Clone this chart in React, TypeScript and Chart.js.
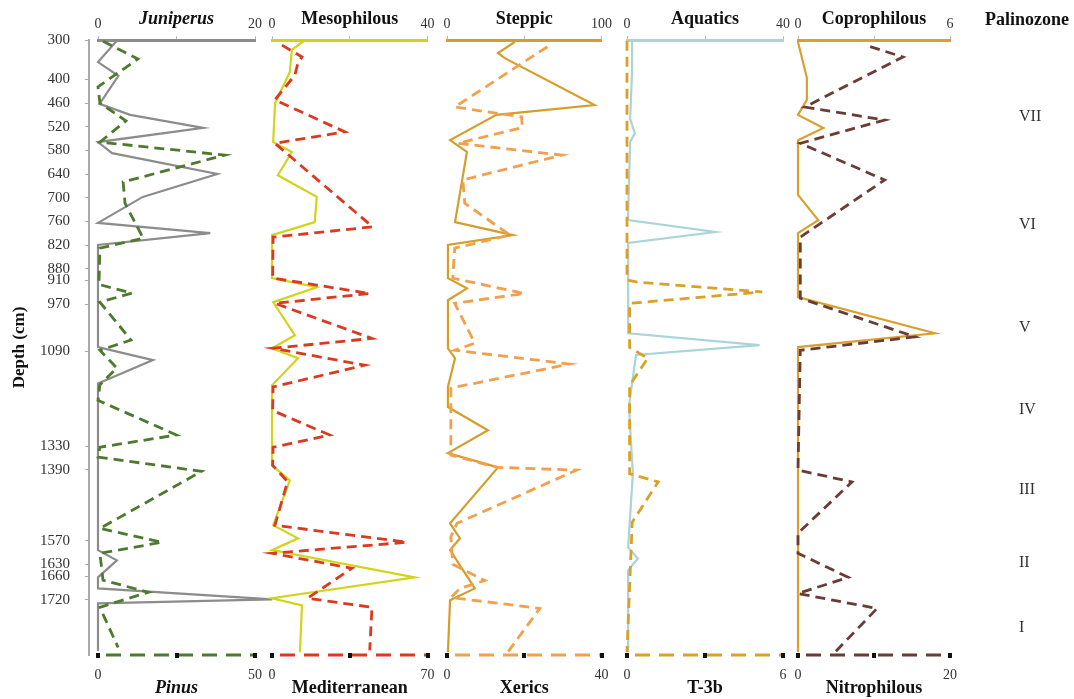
import React, { useEffect, useRef } from 'react';
import { Chart, registerables } from 'chart.js';
Chart.register(...registerables);

const W = 1074;
const H = 699;
const FONT = "'Liberation Serif', 'Times New Roman', serif";

// ---- depth axis ----
const depthMin = 300;
const depthMax = 1860;
const depthTicks = [300, 400, 460, 520, 580, 640, 700, 760, 820, 880, 910, 970, 1090, 1330, 1390, 1570, 1630, 1660, 1720];

// ---- series (depth in cm, value in %) ----
const juniperusDepth = [302, 356, 391, 462, 490, 523, 559, 587, 640, 698, 764, 790, 820, 1079, 1112, 1171, 1594, 1620, 1663, 1691, 1719, 1729, 1850];
const juniperusValues = [2.4, 0, 2.6, 0.2, 4.1, 13.4, 0, 1.8, 15.2, 5.7, 0, 14.3, 0, 0, 7.0, 0, 0, 2.4, 0, 0, 22.2, 0, 0];

const pinusDepth = [303, 348, 419, 460, 505, 559, 592, 660, 714, 803, 828, 920, 942, 965, 1061, 1087, 1132, 1175, 1214, 1302, 1333, 1358, 1394, 1539, 1574, 1602, 1670, 1701, 1739, 1841];
const pinusValues = [1.6, 12.7, 0, 0.6, 8.9, 0.6, 40.4, 8, 8.6, 14.4, 0.6, 0.3, 10.8, 0.6, 10.5, 0.6, 6, 0.6, 0, 25, 0.6, 0, 33, 0.6, 20.4, 0.6, 1.6, 16, 0.6, 6.4];

const mesophilousDepth = [300, 325, 381, 460, 559, 584, 643, 698, 762, 795, 904, 927, 965, 1049, 1082, 1107, 1176, 1379, 1417, 1531, 1564, 1594, 1663, 1716, 1734, 1853];
const mesophilousValues = [8.5, 5.1, 4.6, 0.8, 0.3, 5.1, 1.5, 11.5, 11, 0, 0, 11.5, 0.3, 5.9, 0, 6.7, 0, 0, 4.6, 0.3, 6.7, 0, 36.7, 0, 7.7, 7.2];

const mediterraneanDepth = [313, 343, 358, 389, 452, 533, 562, 774, 800, 904, 943, 968, 1057, 1082, 1125, 1180, 1240, 1302, 1333, 1379, 1420, 1531, 1574, 1602, 1640, 1716, 1739, 1848];
const mediterraneanValues = [4.5, 13.5, 11.7, 10.3, 1.3, 32.8, 1.3, 45.3, 0.5, 0.3, 44, 1.3, 45, 0.5, 41.7, 0.5, 0.3, 26, 0.5, 0.3, 7, 1.3, 60.6, 0, 36, 16, 45, 44];

const steppicDepth = [305, 333, 346, 465, 490, 554, 584, 762, 795, 820, 904, 930, 960, 1082, 1107, 1180, 1231, 1290, 1348, 1384, 1526, 1564, 1594, 1691, 1721, 1853];
const steppicValues = [43.8, 33, 37.4, 95.5, 32, 2, 12.9, 5.2, 42.6, 0.6, 0.6, 12.9, 0.6, 0.6, 5.2, 0.6, 0.6, 26.5, 0.6, 33, 2, 8.4, 2, 18, 2, 0.6];

const xericsDepth = [317, 470, 495, 522, 562, 592, 655, 714, 795, 828, 904, 943, 968, 1069, 1087, 1122, 1183, 1353, 1384, 1391, 1526, 1560, 1630, 1671, 1691, 1714, 1742, 1856];
const xericsValues = [26, 2, 19.3, 19.5, 2.8, 29.7, 4.1, 4.6, 16.3, 2, 1.5, 20, 2, 7.2, 2, 31.7, 1, 1, 13, 33.5, 2.6, 1, 1.5, 9.8, 3.4, 1, 24, 15.5];

const aquaticsDepth = [302, 380, 500, 536, 559, 739, 757, 787, 815, 1044, 1074, 1099, 1171, 1230, 1399, 1587, 1615, 1645, 1853];
const aquaticsValues = [1.3, 1.3, 0.8, 2, 0.8, 0.3, 0.3, 22.6, 0.3, 0.3, 34, 2.3, 1.3, 0.5, 1.5, 0.3, 2.8, 0.3, 0.3];

const t3bDepth = [302, 909, 914, 939, 968, 1080, 1107, 1176, 1400, 1421, 1523, 1853];
const t3bValues = [0, 0, 0.4, 5.2, 0.1, 0.1, 0.8, 0.1, 0.1, 1.2, 0.2, 0];

const coprophilousDepth = [305, 396, 452, 490, 523, 554, 693, 757, 790, 952, 1044, 1079, 1853];
const coprophilousValues = [0, 0.35, 0.35, 0, 1.0, 0, 0, 0.8, 0, 0, 5.4, 0, 0];

const nitrophilousDepth = [317, 343, 470, 503, 562, 655, 800, 955, 1053, 1087, 1391, 1421, 1551, 1602, 1663, 1704, 1742, 1858];
const nitrophilousValues = [9.5, 13.8, 0.9, 11.4, 0.3, 11.4, 0.3, 0.3, 15.4, 0.3, 0, 7.1, 0, 0, 6.6, 0, 10.4, 4.6];

// ---- palynological zones ----
const zoneLabels = ['VII', 'VI', 'V', 'IV', 'III', 'II', 'I'];
const zoneDepths = [495, 770, 1031, 1239, 1442, 1627, 1790];

type PanelCfg = {
  left: number; right: number; padRight: number;
  topTitle: string; bottomTitle: string; italic: boolean;
  topMax: number; bottomMax: number;
  topColor: string; bottomColor: string;
  topDepth: number[]; topValues: number[];
  bottomDepth: number[]; bottomValues: number[];
  zones?: boolean;
};

const PAD = 14;

const panels: PanelCfg[] = [
  { left: 98, right: 255, padRight: 24, topTitle: 'Juniperus', bottomTitle: 'Pinus', italic: true, topMax: 20, bottomMax: 50,
    topColor: '#8c8c8c', bottomColor: '#4d7a2c', topDepth: juniperusDepth, topValues: juniperusValues, bottomDepth: pinusDepth, bottomValues: pinusValues },
  { left: 272, right: 428, padRight: PAD, topTitle: 'Mesophilous', bottomTitle: 'Mediterranean', italic: false, topMax: 40, bottomMax: 70,
    topColor: '#d2d41c', bottomColor: '#d93a20', topDepth: mesophilousDepth, topValues: mesophilousValues, bottomDepth: mediterraneanDepth, bottomValues: mediterraneanValues },
  { left: 447, right: 602, padRight: PAD, topTitle: 'Steppic', bottomTitle: 'Xerics', italic: false, topMax: 100, bottomMax: 40,
    topColor: '#d49e2a', bottomColor: '#f2a04c', topDepth: steppicDepth, topValues: steppicValues, bottomDepth: xericsDepth, bottomValues: xericsValues },
  { left: 627, right: 783, padRight: PAD, topTitle: 'Aquatics', bottomTitle: 'T-3b', italic: false, topMax: 40, bottomMax: 6,
    topColor: '#a9d4d8', bottomColor: '#d9a226', topDepth: aquaticsDepth, topValues: aquaticsValues, bottomDepth: t3bDepth, bottomValues: t3bValues },
  { left: 798, right: 950, padRight: W - 950, topTitle: 'Coprophilous', bottomTitle: 'Nitrophilous', italic: false, topMax: 6, bottomMax: 20,
    topColor: '#d9a030', bottomColor: '#6b3b36', topDepth: coprophilousDepth, topValues: coprophilousValues, bottomDepth: nitrophilousDepth, bottomValues: nitrophilousValues, zones: true },
];

const pts = (d: number[], v: number[]) => d.map((y, i) => ({ x: v[i], y }));

function xScale(pos: 'top' | 'bottom', max: number, color: string, title: string, italic: boolean) {
  const top = pos === 'top';
  return {
    type: 'linear', axis: 'x', position: pos, min: 0, max,
    afterBuildTicks: (s: any) => { s.ticks = [0, max / 2, max].map((value) => ({ value })); },
    afterFit: (s: any) => { s.height = top ? 40 : 44; },
    ticks: {
      autoSkip: false, maxRotation: 0, minRotation: 0,
      padding: top ? 3.5 : 7.5,
      color: '#333',
      font: { family: FONT, size: 14 },
      callback: (v: number) => (v === 0 || v === max ? String(v) : ''),
    },
    grid: {
      display: true, drawOnChartArea: false, drawTicks: true,
      tickLength: 4, tickWidth: 1, tickColor: top ? '#bbbbbb' : 'rgba(0,0,0,0)',
    },
    border: top ? { display: true, color, width: 3 } : { display: false },
    title: {
      display: true, text: title, color: '#111',
      font: { family: FONT, size: 18, weight: 'bold', style: italic ? 'italic' : 'normal' },
      padding: top ? { top: 9, bottom: 0 } : { top: 0, bottom: 0 },
    },
  };
}

function PanelChart({ cfg }: { cfg: PanelCfg }) {
  const ref = useRef<HTMLCanvasElement>(null);
  const canvasLeft = cfg.left - PAD;
  const width = cfg.right - cfg.left + PAD + cfg.padRight;
  useEffect(() => {
    const dashedAxisPlugin = {
      id: 'dashedAxis',
      afterDatasetsDraw(chart: any) {
        const s = chart.scales.xb;
        const ctx = chart.ctx;
        const y = chart.chartArea.bottom;
        ctx.save();
        ctx.strokeStyle = cfg.bottomColor;
        ctx.lineWidth = 3;
        ctx.setLineDash([15, 9]);
        ctx.lineDashOffset = -8;
        ctx.beginPath();
        ctx.moveTo(s.left, y);
        ctx.lineTo(s.right, y);
        ctx.stroke();
        ctx.setLineDash([]);
        ctx.fillStyle = '#111';
        s.ticks.forEach((t: any) => {
          const x = s.getPixelForValue(t.value);
          ctx.fillRect(Math.round(x) - 2, y - 2, 4, 5);
        });
        ctx.restore();
      },
    };
    const zonePlugin = {
      id: 'zones',
      afterDraw(chart: any) {
        if (!cfg.zones) return;
        const ctx = chart.ctx;
        const y = chart.scales.y;
        ctx.save();
        ctx.fillStyle = '#111';
        ctx.textBaseline = 'middle';
        ctx.textAlign = 'center';
        ctx.font = `bold 18px ${FONT}`;
        ctx.fillText('Palinozone', 1027 - canvasLeft, 20);
        ctx.font = `16px ${FONT}`;
        ctx.fillStyle = '#333';
        ctx.textAlign = 'left';
        zoneLabels.forEach((lab, i) => ctx.fillText(lab, 1019 - canvasLeft, y.getPixelForValue(zoneDepths[i])));
        ctx.restore();
      },
    };
    const chart = new Chart(ref.current as HTMLCanvasElement, {
      type: 'scatter',
      data: {
        datasets: [
          {
            data: pts(cfg.bottomDepth, cfg.bottomValues), xAxisID: 'xb', yAxisID: 'y', showLine: true,
            borderColor: cfg.bottomColor, borderWidth: 2.8, borderDash: [10, 6], pointRadius: 0, clip: false as any,
          },
          {
            data: pts(cfg.topDepth, cfg.topValues), xAxisID: 'xt', yAxisID: 'y', showLine: true,
            borderColor: cfg.topColor, borderWidth: 2.2, pointRadius: 0, clip: false as any,
          },
        ],
      },
      options: {
        animation: false, responsive: false, maintainAspectRatio: false,
        layout: { padding: { left: PAD, right: cfg.padRight, top: 0, bottom: 0 } },
        plugins: { legend: { display: false }, tooltip: { enabled: false } },
        scales: {
          y: { type: 'linear', axis: 'y', display: false, min: depthMin, max: depthMax, reverse: true },
          xt: xScale('top', cfg.topMax, cfg.topColor, cfg.topTitle, cfg.italic),
          xb: xScale('bottom', cfg.bottomMax, cfg.bottomColor, cfg.bottomTitle, cfg.italic),
        } as any,
      },
      plugins: [dashedAxisPlugin, zonePlugin],
    } as any);
    return () => chart.destroy();
  }, []);
  return (
    <canvas ref={ref} width={width} height={H}
      style={{ position: 'absolute', left: canvasLeft, top: 0, width, height: H }} />
  );
}

function DepthAxis() {
  const ref = useRef<HTMLCanvasElement>(null);
  const width = 96;
  useEffect(() => {
    const chart = new Chart(ref.current as HTMLCanvasElement, {
      type: 'scatter',
      data: { datasets: [] },
      options: {
        animation: false, responsive: false, maintainAspectRatio: false,
        layout: { padding: { left: 0, right: 0, top: 40, bottom: 44 } },
        plugins: { legend: { display: false }, tooltip: { enabled: false } },
        scales: {
          x: { type: 'linear', axis: 'x', display: false, min: 0, max: 1 },
          y: {
            type: 'linear', axis: 'y', position: 'left', min: depthMin, max: depthMax, reverse: true,
            afterBuildTicks: (s: any) => { s.ticks = depthTicks.map((value) => ({ value })); },
            afterFit: (s: any) => { s.width = 89; },
            ticks: {
              autoSkip: false, padding: 15, color: '#333',
              font: { family: FONT, size: 15 },
              callback: (v: number) => String(v),
            },
            grid: { display: true, drawOnChartArea: false, drawTicks: true, tickLength: 4, tickColor: '#aaaaaa' },
            border: { display: true, color: '#aaaaaa', width: 2, dash: [1, 2] },
            title: {
              display: true, text: 'Depth (cm)', color: '#111',
              font: { family: FONT, size: 17, weight: 'bold' },
              padding: { top: 9, bottom: 0 },
            },
          },
        } as any,
      },
    } as any);
    return () => chart.destroy();
  }, []);
  return (
    <canvas ref={ref} width={width} height={H}
      style={{ position: 'absolute', left: 0, top: 0, width, height: H }} />
  );
}

export default function App() {
  return (
    <div style={{ position: 'absolute', left: 0, top: 0, width: W, height: H, background: '#ffffff', overflow: 'hidden' }}>
      <DepthAxis />
      {panels.map((p) => <PanelChart key={p.topTitle} cfg={p} />)}
    </div>
  );
}
